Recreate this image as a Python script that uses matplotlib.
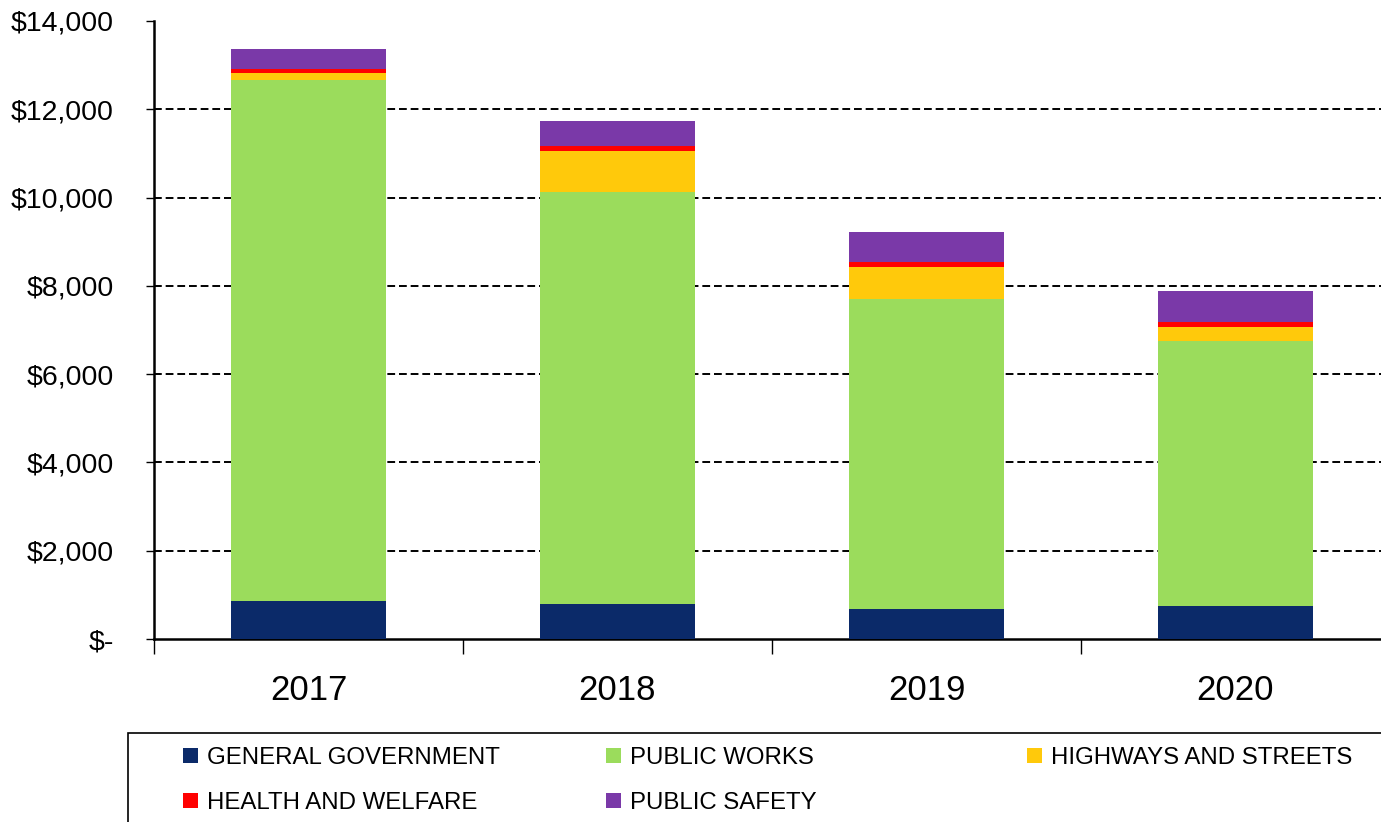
import matplotlib
matplotlib.use("Agg")
import matplotlib.pyplot as plt
from matplotlib.patches import Patch, Rectangle
from matplotlib.ticker import FuncFormatter
import numpy as np

plt.rcParams['font.family'] = ['Liberation Sans', 'DejaVu Sans']

years = ["2017", "2018", "2019", "2020"]
general_government = [870, 800, 690, 750]
public_works = [11790, 9320, 7010, 5990]
highways_and_streets = [160, 940, 725, 320]
health_and_welfare = [97, 114, 113, 121]
public_safety = [447, 559, 673, 709]

series = [
    ("GENERAL GOVERNMENT", general_government, "#0B2A69"),
    ("PUBLIC WORKS", public_works, "#9BDC5C"),
    ("HIGHWAYS AND STREETS", highways_and_streets, "#FFC90B"),
    ("HEALTH AND WELFARE", health_and_welfare, "#FF0000"),
    ("PUBLIC SAFETY", public_safety, "#7A39A8"),
]

W, H = 1381, 822
fig = plt.figure(figsize=(W / 100, H / 100), dpi=100)
ax = fig.add_axes([154 / W, (H - 639) / H, 1236 / W, 618 / H])

x = np.arange(len(years))
bottom = np.zeros(len(years))
for name, vals, col in series:
    v = np.array(vals, dtype=float)
    ax.bar(x, v, 0.5, bottom=bottom, color=col, edgecolor="none", zorder=3)
    bottom += v

ax.set_xlim(-0.5, 3.5)
ax.set_ylim(0, 14000)
ax.set_yticks(np.arange(0, 14001, 2000))
ax.yaxis.set_major_formatter(FuncFormatter(lambda v, p: "$-" if v == 0 else "${:,.0f}".format(v)))
for yv in np.arange(2000, 12001, 2000):
    ax.axhline(yv, color="black", linestyle=(0, (4, 2)), linewidth=1.4, zorder=1)

ax.set_xticks(x)
ax.set_xticklabels(years)
ax.set_xticks(np.arange(-0.5, 3.0, 1.0), minor=True)
ax.tick_params(axis="x", which="major", length=0, pad=25, labelsize=25)
ax.tick_params(axis="x", which="minor", length=11, width=1, color="black")
ax.tick_params(axis="y", which="major", length=6, width=1, pad=23, labelsize=20.5, color="black")

for s in ["top", "right"]:
    ax.spines[s].set_visible(False)
ax.spines["left"].set_linewidth(1.8)
ax.spines["bottom"].set_linewidth(1.8)

# legend frame
fig.patches.append(Rectangle((128 / W, -0.05), 1.0, (822 - 733) / H + 0.05,
                             transform=fig.transFigure, fill=False,
                             edgecolor="black", linewidth=1.2))

fs = 17.3
positions = [(183, 758), (606, 758), (1027, 758), (183, 803), (606, 803)]
for (name, vals, col), (px, py) in zip(series, positions):
    fig.legend(handles=[Patch(facecolor=col, edgecolor="none")], labels=[name],
               loc="center left", bbox_to_anchor=(px / W, (H - py) / H),
               bbox_transform=fig.transFigure, frameon=False, fontsize=fs,
               borderpad=0, borderaxespad=0, handlelength=0.63, handleheight=0.63,
               handletextpad=0.36)

fig.savefig("out.png", dpi=100)
